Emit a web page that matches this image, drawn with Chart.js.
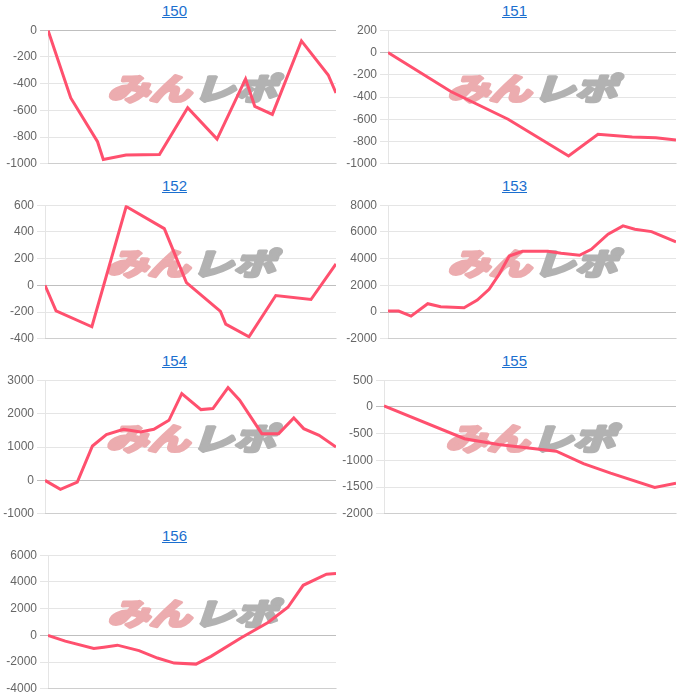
<!DOCTYPE html>
<html><head><meta charset="utf-8">
<script src="https://cdn.jsdelivr.net/npm/chart.js@4/dist/chart.umd.min.js"></script>
<style>
html,body{margin:0;padding:0;background:#fff;}
#wrap{position:relative;width:679px;height:700px;overflow:hidden;}
.panel{position:absolute;width:339px;height:175px;}
.panel .ttl{position:absolute;top:2px;left:10px;width:339px;text-align:center;font:15px "Liberation Sans",Arial,sans-serif;line-height:17px;}
.panel .ttl a{color:#1b6fcf;text-decoration:underline;}
.panel canvas{position:absolute;left:0;top:20px;}
</style></head><body><div id="wrap"></div>
<script>
const titles = ['150','151','152','153','154','155','156'];

// x = progress through the session (0-100), y = coin difference
const x150 = [0, 7.9, 17.2, 19.2, 27.1, 38.7, 48.5, 58.7, 68.6, 71.8, 77.9, 88.0, 97.3, 100];
const y150 = [0, -507, -835, -968, -935, -930, -580, -815, -365, -570, -630, -80, -335, -470];

const x151 = [0, 21.8, 41.7, 62.7, 72.9, 84.8, 93.0, 100];
const y151 = [0, -351, -600, -930, -735, -760, -765, -787];

const x152 = [0, 3.8, 16.1, 27.9, 41.0, 48.6, 60.3, 62.1, 70.1, 79.3, 91.4, 100];
const y152 = [0, -190, -310, 590, 425, 20, -195, -290, -385, -76, -106, 160];

const x153 = [0, 3.7, 8.0, 13.8, 18.3, 26.4, 31.0, 35.1, 38.6, 42.1, 46.7, 55.5, 60.1, 66.5, 70.6, 76.4, 81.6, 85.7, 91.5, 95.0, 100];
const y153 = [75, 80, -300, 625, 400, 325, 900, 1700, 2825, 4200, 4550, 4550, 4400, 4250, 4700, 5825, 6450, 6200, 6025, 5700, 5250];

const x154 = [0, 5.3, 11.1, 16.3, 21.1, 27.0, 32.8, 37.4, 42.6, 47.0, 53.6, 57.7, 62.9, 66.9, 74.5, 80.3, 85.5, 88.9, 94.2, 100];
const y154 = [0, -270, -50, 1030, 1370, 1530, 1450, 1530, 1800, 2600, 2120, 2150, 2780, 2400, 1400, 1400, 1870, 1550, 1350, 1000];

const x155 = [0, 27.6, 39.2, 59.0, 68.3, 77.6, 92.7, 100];
const y155 = [20, -595, -702, -829, -1063, -1240, -1506, -1430];

const x156 = [0, 6.0, 15.9, 19.4, 24.1, 31.6, 38.0, 43.8, 51.4, 56.6, 67.1, 76.4, 83.3, 88.6, 96.7, 100];
const y156 = [0, -430, -987, -886, -734, -1139, -1696, -2076, -2152, -1570, -177, 962, 2101, 3747, 4582, 4633];

const xs = [x150, x151, x152, x153, x154, x155, x156];
const ys = [y150, y151, y152, y153, y154, y155, y156];

const yMin  = [-1000, -1000, -400, -2000, -1000, -2000, -4000];
const yMax  = [0, 200, 600, 8000, 3000, 500, 6000];
const yStep = [200, 200, 200, 2000, 1000, 500, 2000];

// layout (not data)
const axisWidth = [48, 48, 45, 48, 45, 44, 48];

const watermark = {
  id: 'wm',
  beforeDatasetsDraw(chart) {
    const {ctx, chartArea: a} = chart;
    const cx = (a.left + a.right) / 2, cy = (a.top + a.bottom) / 2 - 9;
    ctx.save();
    ctx.translate(cx, cy);
    ctx.scale(1.1, 0.8);
    ctx.font = 'italic bold 38px "Noto Sans CJK JP"';
    ctx.textBaseline = 'middle';
    ctx.lineJoin = 'round';
    ctx.lineWidth = 4;
    const t1 = 'みん', t2 = 'レポ', gap = 2;
    const w1 = ctx.measureText(t1).width, w2 = ctx.measureText(t2).width;
    const x = -(w1 + w2 + gap) / 2;
    ctx.fillStyle = ctx.strokeStyle = 'rgb(236,172,175)';
    ctx.strokeText(t1, x, 0);
    ctx.fillText(t1, x, 0);
    ctx.fillStyle = ctx.strokeStyle = 'rgb(178,178,178)';
    ctx.strokeText(t2, x + w1 + gap, 0);
    ctx.fillText(t2, x + w1 + gap, 0);
    ctx.restore();
  }
};

Chart.defaults.font.family = '"Liberation Sans", Arial, sans-serif';
Chart.defaults.font.size = 12;
Chart.defaults.color = '#666';

const wrap = document.getElementById('wrap');
titles.forEach((t, i) => {
  const p = document.createElement('div');
  p.className = 'panel';
  p.style.left = (i % 2 ? 340 : 0) + 'px';
  p.style.top = (Math.floor(i / 2) * 175) + 'px';
  const tt = document.createElement('div');
  tt.className = 'ttl';
  tt.style.left = '5px';
  const a = document.createElement('a');
  a.href = '#';
  a.textContent = t;
  tt.appendChild(a);
  p.appendChild(tt);
  const c = document.createElement('canvas');
  c.width = 339; c.height = 154;
  c.style.width = '339px'; c.style.height = '154px';
  p.appendChild(c);
  wrap.appendChild(p);

  new Chart(c, {
    type: 'line',
    data: {
      datasets: [{
        data: xs[i].map((x, k) => ({x, y: ys[i][k]})),
        borderColor: 'rgb(255,80,110)',
        borderWidth: 3,
        pointRadius: 0,
        tension: 0,
        fill: false
      }]
    },
    options: {
      responsive: false,
      animation: false,
      devicePixelRatio: 1,
      layout: {padding: {right: 3, left: 0, top: 0, bottom: 0}},
      plugins: {legend: {display: false}, tooltip: {enabled: false}},
      scales: {
        x: {
          type: 'linear', min: 0, max: 100,
          ticks: {display: false},
          grid: {display: false},
          border: {display: true, color: 'rgba(0,0,0,0.1)'}
        },
        y: {
          min: yMin[i], max: yMax[i],
          ticks: {stepSize: yStep[i], color: '#666', callback: v => String(v)},
          grid: {color: ctx => (ctx.tick && ctx.tick.value === 0) ? 'rgba(0,0,0,0.25)' : 'rgba(0,0,0,0.1)'},
          border: {color: 'rgba(0,0,0,0.1)'},
          afterFit: s => { s.width = axisWidth[i]; }
        }
      }
    },
    plugins: [watermark]
  });
});
</script></body></html>
